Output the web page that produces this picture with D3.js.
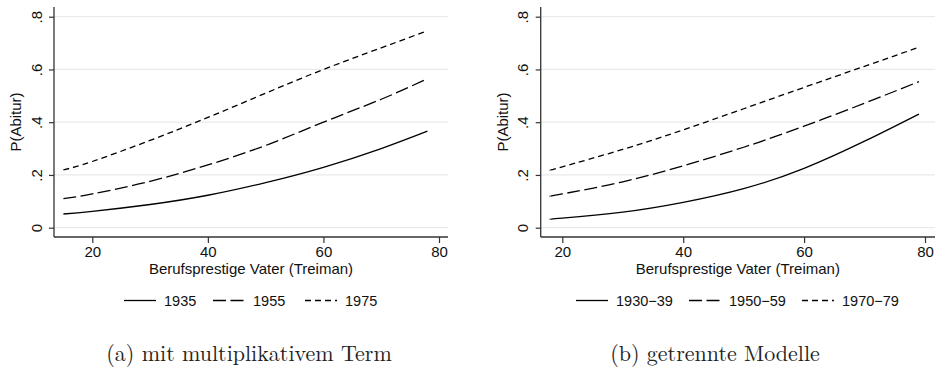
<!DOCTYPE html>
<html>
<head>
<meta charset="utf-8">
<script src="https://cdn.jsdelivr.net/npm/d3@7"></script>
<style>
  body { margin: 0; background: #fff; }
  svg { display: block; }
  .tick text { font-family: "Liberation Sans", Arial, sans-serif; }
</style>
</head>
<body>
<div id="root"></div>
<script>
// ---- data ----
const xA = [15, 20, 30, 40, 50, 60, 70, 78];
const a1935 = [0.052, 0.062, 0.088, 0.123, 0.171, 0.229, 0.30, 0.366];
const a1955 = [0.11, 0.128, 0.176, 0.238, 0.312, 0.40, 0.487, 0.565];
const a1975 = [0.219, 0.251, 0.331, 0.418, 0.51, 0.60, 0.682, 0.747];

const xB = [18, 20, 30, 40, 50, 60, 70, 79];
const b1930 = [0.033, 0.036, 0.059, 0.096, 0.148, 0.225, 0.328, 0.431];
const b1950 = [0.12, 0.128, 0.174, 0.235, 0.305, 0.385, 0.472, 0.554];
const b1970 = [0.219, 0.231, 0.297, 0.371, 0.451, 0.532, 0.612, 0.684];

const labelsA = ["1935", "1955", "1975"];
const labelsB = ["1930\u221239", "1950\u221259", "1970\u221279"];

const xTicks = [20, 40, 60, 80];
const yTicks = [0, 0.2, 0.4, 0.6, 0.8];
const xTitle = "Berufsprestige Vater (Treiman)";
const yTitle = "P(Abitur)";
const captionA = "(a) mit multiplikativem Term";
const captionB = "(b) getrennte Modelle";

const W = 936, H = 368;
const sans = '"Liberation Sans", Arial, sans-serif';
const serif = '"Latin Modern Roman", "DejaVu Serif", serif';
const dashes = ["none", "13,4.5", "6,4"];

const svg = d3.select("#root").append("svg").attr("width", W).attr("height", H);

function drawPanel(opts) {
  const { left, right, x20, x80, xs, series, labels, caption, legend, captionX } = opts;
  const top = 7, bottom = 237;
  const g = svg.append("g");

  const x = d3.scaleLinear().domain([20, 80]).range([x20, x80]);
  const y = d3.scaleLinear().domain([0, 0.8]).range([227.7, 16.7]);

  // gridlines
  g.append("g").selectAll("line").data(yTicks).join("line")
    .attr("x1", left).attr("x2", right)
    .attr("y1", d => y(d)).attr("y2", d => y(d))
    .attr("stroke", "#eaeaea").attr("stroke-width", 1.2);

  // y axis
  const ya = g.append("g").attr("transform", `translate(${left},0)`)
    .call(d3.axisLeft(y).tickValues(yTicks).tickSize(5).tickPadding(0)
      .tickFormat(d => d === 0 ? "0" : d3.format(".1f")(d).replace(/^0/, "")));
  ya.select(".domain").remove();
  ya.selectAll(".tick line").attr("stroke", "#333").attr("stroke-width", 1.2);
  ya.selectAll(".tick text")
    .attr("x", null).attr("dy", null)
    .attr("transform", "translate(-12.5,0) rotate(-90)")
    .attr("text-anchor", "middle")
    .attr("font-size", 15).attr("fill", "#111");

  // x axis
  const xa = g.append("g").attr("transform", `translate(0,${bottom})`)
    .call(d3.axisBottom(x).tickValues(xTicks).tickSize(6).tickPadding(4));
  xa.select(".domain").remove();
  xa.selectAll(".tick line").attr("stroke", "#333").attr("stroke-width", 1.2);
  xa.selectAll(".tick text").attr("dy", null).attr("y", 20)
    .attr("font-size", 15).attr("fill", "#111");

  // axis lines
  g.append("line").attr("x1", left).attr("x2", left).attr("y1", top).attr("y2", bottom)
    .attr("stroke", "#333").attr("stroke-width", 1.3);
  g.append("line").attr("x1", left).attr("x2", right).attr("y1", bottom).attr("y2", bottom)
    .attr("stroke", "#333").attr("stroke-width", 1.3);

  // titles
  g.append("text").attr("transform", `translate(${left - 33},${(top + bottom) / 2}) rotate(-90)`)
    .attr("text-anchor", "middle").attr("font-family", sans).attr("font-size", 15)
    .attr("fill", "#111").text(yTitle);
  g.append("text").attr("x", (left + right) / 2).attr("y", 274)
    .attr("text-anchor", "middle").attr("font-family", sans).attr("font-size", 15)
    .attr("fill", "#111").text(xTitle);

  // curves
  const line = d3.line().x(d => x(d[0])).y(d => y(d[1])).curve(d3.curveNatural);
  series.forEach((vals, i) => {
    g.append("path").datum(xs.map((v, j) => [v, vals[j]]))
      .attr("d", line).attr("fill", "none").attr("stroke", "#000")
      .attr("stroke-width", 1.3).attr("stroke-dasharray", dashes[i]);
  });

  // legend
  const lg = g.append("g");
  labels.forEach((lab, i) => {
    const lx = legend[i];
    lg.append("line").attr("x1", lx).attr("x2", lx + 32).attr("y1", 300.5).attr("y2", 300.5)
      .attr("stroke", "#000").attr("stroke-width", 1.3).attr("stroke-dasharray", dashes[i]);
    lg.append("text").attr("x", lx + 40).attr("y", 306).attr("font-family", sans)
      .attr("font-size", 14.5).attr("fill", "#111").text(lab);
  });

  // caption
  g.append("text").attr("x", captionX).attr("y", 361).attr("text-anchor", "middle")
    .attr("font-family", serif).attr("font-size", 22).attr("fill", "#222").text(caption);
}

drawPanel({
  left: 54, right: 448, x20: 92.3, x80: 439, xs: xA,
  series: [a1935, a1955, a1975], labels: labelsA, caption: captionA,
  legend: [124, 213, 305], captionX: 249
});
drawPanel({
  left: 540.7, right: 935, x20: 562.3, x80: 925, xs: xB,
  series: [b1930, b1950, b1970], labels: labelsB, caption: captionB,
  legend: [576, 689, 802], captionX: 715
});
</script>
</body>
</html>
